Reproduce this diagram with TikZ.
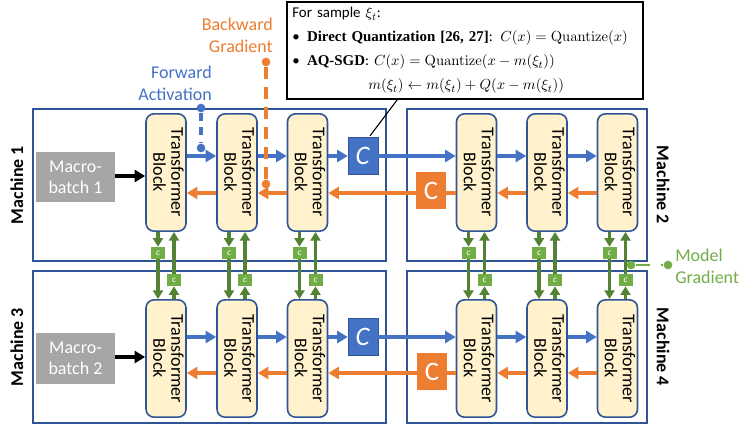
\documentclass[tikz,border=0pt]{standalone}
\usepackage[no-math]{fontspec}
\usepackage{graphicx}
\setmainfont{Carlito}
\newfontfamily\tnr{Liberation Serif}
\usetikzlibrary{arrows.meta,calc}

\definecolor{fwdblue}{HTML}{4472C4}
\definecolor{boxblue}{HTML}{2F5597}
\definecolor{bwdorange}{HTML}{ED7D31}
\definecolor{gradgreen}{HTML}{548235}
\definecolor{cgreen}{HTML}{70AD47}
\definecolor{blockfill}{HTML}{FFF2CC}
\definecolor{macrogray}{HTML}{A6A6A6}

\newcommand{\tbtext}{\rotatebox{-90}{\begin{tabular}{@{}c@{}}Transformer\\Block\end{tabular}}}

\tikzset{
  machine/.style={draw=boxblue, line width=1.1pt},
  mlabel/.style={font=\fontsize{13.5}{16}\selectfont\bfseries, inner sep=0pt},
  tblock/.style={draw=boxblue, fill=blockfill, rounded corners=6pt, line width=1.2pt,
    minimum width=30pt, minimum height=88pt, inner sep=0pt,
    font=\fontsize{13.5}{13.5}\selectfont},
  macro/.style={fill=macrogray, text=white, minimum width=59pt, minimum height=38pt,
    align=center, font=\fontsize{13.5}{16}\selectfont},
  qblue/.style={draw=boxblue, fill=fwdblue, text=white, minimum width=22.5pt,
    minimum height=27.5pt, inner sep=0pt, font=\fontsize{20}{20}\selectfont},
  qorange/.style={fill=bwdorange, text=white, minimum width=22.5pt,
    minimum height=27.5pt, inner sep=0pt, font=\fontsize{20}{20}\selectfont},
  csmall/.style={fill=cgreen, text=white, minimum width=10.5pt, minimum height=9pt,
    inner sep=0pt, font=\fontsize{7}{7}\selectfont},
  flow/.style={line width=2.5pt, -{Triangle[length=8pt,width=9pt]}},
  fwd/.style={flow, fwdblue},
  bwd/.style={flow, bwdorange},
  bwdline/.style={line width=2.5pt, bwdorange},
  feed/.style={flow, black},
  grad/.style={line width=2.4pt, gradgreen, -{Triangle[length=6.5pt,width=7.5pt]}},
  dot/.style={circle, inner sep=0pt, minimum size=6.5pt},
  note/.style={align=right, inner sep=0pt, font=\fontsize{13.5}{16.5}\selectfont},
  formula/.style={draw, line width=1.2pt, minimum width=267pt, minimum height=72.75pt,
    text width=259pt, inner sep=4pt, align=left, font=\fontsize{11.2}{18}\selectfont}
}

\begin{document}
\begin{tikzpicture}[x=0.75pt,y=-0.75pt]
  \useasboundingbox (0,0) rectangle (748,432);

  % machines
  \draw[machine] (33,109) rectangle (386,261);
  \draw[machine] (407,109) rectangle (647,261);
  \draw[machine] (33,271) rectangle (386,423);
  \draw[machine] (407,271) rectangle (647,423);
  \node[mlabel, rotate=90] (lab1) at (17,185) {Machine 1};
  \node[mlabel, rotate=-90] (lab2) at (663,185) {Machine 2};
  \node[mlabel, rotate=90] (lab3) at (17,347) {Machine 3};
  \node[mlabel, rotate=-90] (lab4) at (663,347) {Machine 4};

  % transformer blocks
  \foreach \n/\x in {1/166, 2/237, 3/307.5, 4/476.5, 5/547, 6/617.5} {
    \node[tblock] (up\n) at (\x,172.5) {\tbtext};
    \node[tblock] (lo\n) at (\x,358.5) {\tbtext};
  }
  \node[macro] (mb1) at (75.5,177) {Macro-\\batch 1};
  \node[macro] (mb2) at (75.5,358.5) {Macro-\\batch 2};

  % compression
  \node[qblue] (qf1) at (363,155.5) {\textit{C}};
  \node[qorange] (qb2) at (431,190.5) {C};
  \node[qblue] (qf3) at (363,336.5) {\textit{C}};
  \node[qorange] (qb4) at (432,371.5) {C};

  % rows
  \coordinate (f1) at (0,156);
  \coordinate (k1) at (0,176);
  \coordinate (g1) at (0,193);
  \coordinate (f3) at (0,337);
  \coordinate (k3) at (0,357);
  \coordinate (g3) at (0,373);

  \draw[feed] (mb1.east |- k1) -- (up1.west |- k1);
  \draw[feed] (mb2.east |- k3) -- (lo1.west |- k3);
  \foreach \a/\b/\r in {up1/up2/f1, up2/up3/f1, up3/qf1/f1, qf1/up4/f1, up4/up5/f1, up5/up6/f1,
                        lo1/lo2/f3, lo2/lo3/f3, lo3/qf3/f3, qf3/lo4/f3, lo4/lo5/f3, lo5/lo6/f3}
    \draw[fwd] (\a.east |- \r) -- (\b.west |- \r);
  \foreach \a/\b/\r in {up6/up5/g1, up5/up4/g1, qb2/up3/g1, up3/up2/g1, up2/up1/g1,
                        lo6/lo5/g3, lo5/lo4/g3, qb4/lo3/g3, lo3/lo2/g3, lo2/lo1/g3}
    \draw[bwd] (\a.west |- \r) -- (\b.east |- \r);
  \draw[bwdline] (up4.west |- g1) -- (qb2.east |- g1);
  \draw[bwdline] (lo4.west |- g3) -- (qb4.east |- g3);

  % model sync
  \foreach \n in {1,...,6} {
    \node[csmall] (gd\n) at ($(up\n.south)+(-8,21)$) {\textit{c}};
    \node[csmall] (gu\n) at ($(lo\n.north)+(8,-19)$) {\textit{c}};
    \draw[grad] (up\n.south -| gd\n) -- (gd\n);
    \draw[grad] (gd\n) -- (lo\n.north -| gd\n);
    \draw[grad] (lo\n.north -| gu\n) -- (gu\n);
    \draw[grad] (gu\n) -- (up\n.south -| gu\n);
  }

  % legends
  \node[dot, fill=fwdblue] (fa1) at (201,108) {};
  \node[dot, fill=fwdblue] (fa2) at (201,148) {};
  \draw[fwdblue, line width=2.4pt, dash pattern=on 6pt off 5pt] (fa1) -- (fa2);
  \node[note, text=fwdblue, anchor=east] (fatext) at (212,83) {Forward\\Activation};

  \node[dot, fill=bwdorange] (bg1) at (266,62) {};
  \node[dot, fill=bwdorange] (bg2) at (266,184) {};
  \draw[bwdorange, line width=2.4pt, dash pattern=on 9pt off 6pt] (bg1) -- (bg2);
  \node[note, text=bwdorange, anchor=east] (bgtext) at (273,35) {Backward\\Gradient};

  \node[dot, fill=cgreen] (mg1) at (631,265) {};
  \node[dot, fill=cgreen] (mg2) at (668,265) {};
  \draw[cgreen, line width=1.9pt, dash pattern=on 11pt off 8pt] (mg1) -- (mg2);
  \node[note, align=left, text=cgreen, anchor=west] (mgtext) at (675,266) {Model\\Gradient};

  % formula
  \node[formula] (fq) at (465,50.5) {For sample $\xi_t$:\\
    \makebox[11pt][l]{\textbullet}{\tnr\bfseries Direct Quantization [26, 27]}: $C(x) = \mathrm{Quantize}(x)$\\
    \makebox[11pt][l]{\textbullet}{\tnr\bfseries AQ-SGD}: $C(x) = \mathrm{Quantize}\bigl(x - m(\xi_t)\bigr)$\\
    \hspace{57pt}$m(\xi_t) \leftarrow m(\xi_t) + Q\bigl(x - m(\xi_t)\bigr)$};
  \draw[line width=0.8pt] ($(qf1.north)+(7,-1)$) -- ($(fq.south west)+(111,0)$);
\end{tikzpicture}
\end{document}
